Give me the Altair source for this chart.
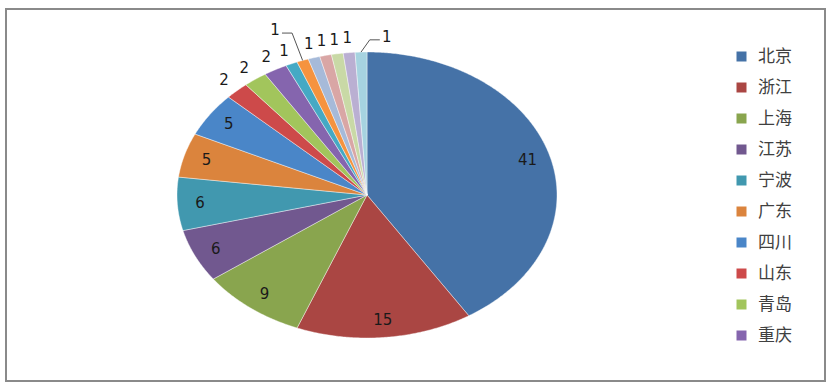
import math
import altair as alt
import pandas as pd

# ---- data ----
categories = ["北京", "浙江", "上海", "江苏", "宁波", "广东", "四川", "山东", "青岛", "重庆",
              "天津", "福建", "湖北", "河南", "安徽", "陕西", "辽宁"]
values = [41, 15, 9, 6, 6, 5, 5, 2, 2, 2, 1, 1, 1, 1, 1, 1, 1]
colors = ["#4572A7", "#AA4643", "#89A54E", "#71588F", "#4198AF", "#DB843D", "#4A86C8",
          "#CD4A4A", "#A2C55C", "#8565AE", "#45A9C4", "#F5933F", "#A6BAD9", "#D9A6A5",
          "#C9D9A6", "#BAAFD2", "#A6D3E0"]
legend_shown = categories[:10]

# label placement style (radius factors in unit-pie space)
inside_r = 0.88
outside_r = 1.10
# leader-line labels: category -> (angle shift in degrees, radius, side)
leader_style = {"福建": (-3.0, 1.25, 1), "辽宁": (7.2, 1.11, -1)}

total = sum(values)
poly_rows, label_rows, leader_rows = [], [], []
cum = 0
for cat, v in zip(categories, values):
    a0 = cum / total * 2 * math.pi
    a1 = (cum + v) / total * 2 * math.pi
    n = max(3, int(math.degrees(a1 - a0) / 0.5) + 1)
    pts = [(0.0, 0.0)]
    for k in range(n):
        a = a0 + (a1 - a0) * k / (n - 1)
        pts.append((math.sin(a), math.cos(a)))
    pts.append((0.0, 0.0))
    for i, (px, py) in enumerate(pts):
        poly_rows.append({"cat": cat, "x": px, "y": py, "o": i})
    am = (a0 + a1) / 2
    if cat in leader_style:
        shift, r, side = leader_style[cat]
        al = am + math.radians(shift)
        lx, ly = r * math.sin(al), r * math.cos(al)
        label_rows.append({"cat": cat, "x": lx, "y": ly, "t": str(v)})
        ex, ey = math.sin(am), math.cos(am)
        line_y = ly - 0.02
        pts_l = [(ex, ey), (lx + side * 0.09, line_y), (lx + side * 0.037, line_y)]
        for i, (px, py) in enumerate(pts_l):
            leader_rows.append({"cat": cat, "x": px, "y": py, "o": i})
    else:
        r = inside_r if v >= 5 else outside_r
        label_rows.append({"cat": cat, "x": r * math.sin(am), "y": r * math.cos(am), "t": str(v)})
    cum += v

poly = pd.DataFrame(poly_rows)
labels = pd.DataFrame(label_rows)
leaders = pd.DataFrame(leader_rows)

W, H = 819, 372
cx, cy, rx, ry = 361, 186, 190, 143
xscale = alt.Scale(domain=[-cx / rx, (W - cx) / rx], nice=False, zero=False)
yscale = alt.Scale(domain=[-(H - cy) / ry, cy / ry], nice=False, zero=False)

X = alt.X("x:Q", scale=xscale, axis=None)
Y = alt.Y("y:Q", scale=yscale, axis=None)

pie = alt.Chart(poly).mark_line(filled=True, stroke="white", strokeWidth=0.7,
                                strokeOpacity=0.6).encode(
    x=X, y=Y, order="o:Q",
    color=alt.Color("cat:N",
                    scale=alt.Scale(domain=categories, range=colors),
                    legend=alt.Legend(values=legend_shown, title=None, orient="none",
                                      legendX=727, legendY=39,
                                      symbolType="square", symbolSize=100,
                                      symbolStrokeWidth=0, labelOffset=8,
                                      labelFont="Noto Sans CJK SC", labelFontSize=17,
                                      labelColor="#404040", rowPadding=13)),
)

lead = alt.Chart(leaders).mark_line(color="#555555", strokeWidth=1).encode(
    x=X, y=Y, order="o:Q", detail="cat:N")

text = alt.Chart(labels).mark_text(font="DejaVu Sans", fontSize=15, color="#1a1a1a",
                                   align="center", baseline="middle").encode(
    x=X, y=Y, text="t:N")

chart = alt.layer(pie, lead, text).properties(
    width=W, height=H,
    padding={"left": 6, "top": 9, "right": 11, "bottom": 6},
    autosize=alt.AutoSizeParams(type="none"),
).configure_view(stroke="#8a8a8a", strokeWidth=2)

chart.save("out.html", embed_options={"renderer": "svg", "actions": False})
